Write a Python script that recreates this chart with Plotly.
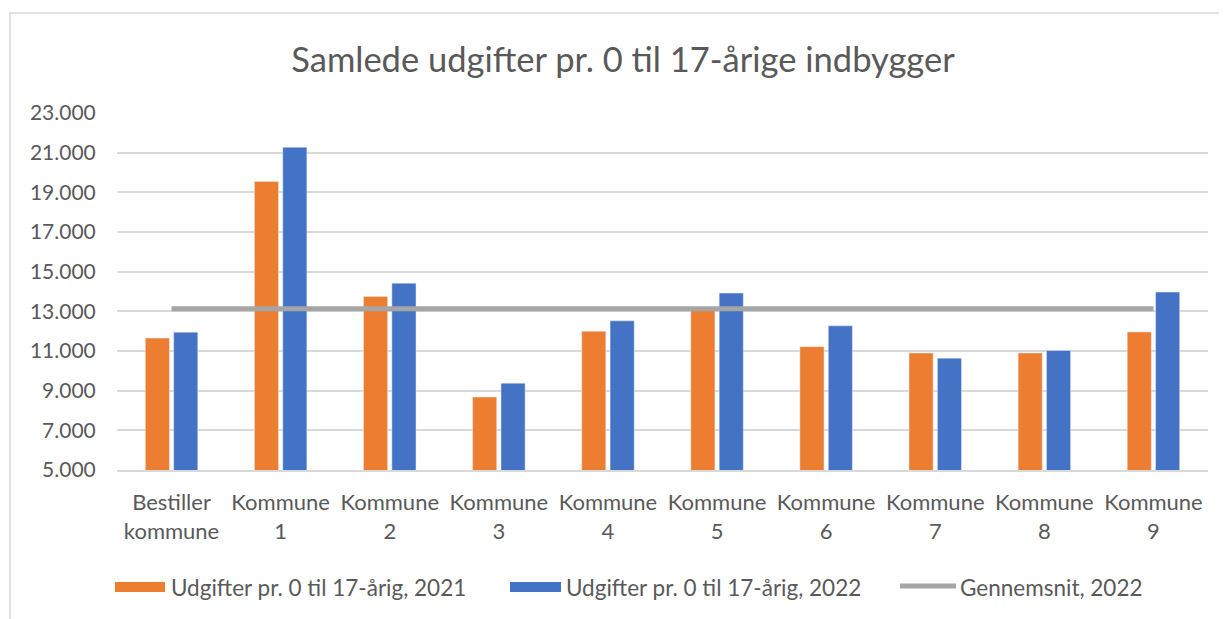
import plotly.graph_objects as go

categories = ["Bestiller<br>kommune", "Kommune<br>1", "Kommune<br>2", "Kommune<br>3", "Kommune<br>4",
              "Kommune<br>5", "Kommune<br>6", "Kommune<br>7", "Kommune<br>8", "Kommune<br>9"]
udg_2021 = [11650, 19550, 13750, 8680, 12000, 13050, 11220, 10900, 10900, 11960]
udg_2022 = [11950, 21270, 14420, 9380, 12520, 13920, 12270, 10640, 11030, 13970]
gns_2022 = [13130, 13130, 13130, 13130, 13130, 13130, 13130, 13130, 13130, 13130]

names = ["Udgifter pr. 0 til 17-årig, 2021", "Udgifter pr. 0 til 17-årig, 2022", "Gennemsnit, 2022"]
title = "Samlede udgifter pr. 0 til 17-årige indbygger"

OFF = 8  # page body margin
W, H = 1227 - OFF, 619 - OFF
L, T = 117 - OFF, 113 - OFF
R = W - (1208 - OFF)
B = H - (470 - OFF)
PW, PH = W - L - R, H - T - B
FONT = "Lato"
GRAY = "#595959"
ORANGE = "#ED7D31"
BLUE = "#4472C4"
LINE = "#A5A5A5"


def px(x):
    return (x - OFF - L) / PW


def py(y):
    return (H - B - (y - OFF)) / PH


fig = go.Figure()
fig.add_trace(go.Bar(x=categories, y=udg_2021, name=names[0], marker_color=ORANGE))
fig.add_trace(go.Bar(x=categories, y=udg_2022, name=names[1], marker_color=BLUE))
fig.add_trace(go.Scatter(x=categories, y=gns_2022, name=names[2], mode="lines",
                         line=dict(color=LINE, width=5)))

LEG_Y = 587
shapes = [
    dict(type="rect", xref="paper", yref="paper", x0=px(10), x1=px(1240), y0=py(640), y1=py(13),
         line=dict(color="#D9D9D9", width=1.5), fillcolor="rgba(0,0,0,0)", layer="below"),
    dict(type="rect", xref="paper", yref="paper", x0=px(115), x1=px(165), y0=py(LEG_Y + 5), y1=py(LEG_Y - 5),
         line=dict(width=0), fillcolor=ORANGE),
    dict(type="rect", xref="paper", yref="paper", x0=px(510), x1=px(561), y0=py(LEG_Y + 5), y1=py(LEG_Y - 5),
         line=dict(width=0), fillcolor=BLUE),
    dict(type="line", xref="paper", yref="paper", x0=px(900), x1=px(956), y0=py(LEG_Y - 1), y1=py(LEG_Y - 1),
         line=dict(width=5, color=LINE)),
]
LF = 22.5
annotations = [
    dict(text=names[0], xref="paper", yref="paper", x=px(169), y=py(LEG_Y), xanchor="left", yanchor="middle",
         showarrow=False, font=dict(family=FONT, size=LF, color=GRAY)),
    dict(text=names[1], xref="paper", yref="paper", x=px(564), y=py(LEG_Y), xanchor="left", yanchor="middle",
         showarrow=False, font=dict(family=FONT, size=LF, color=GRAY)),
    dict(text=names[2], xref="paper", yref="paper", x=px(958), y=py(LEG_Y), xanchor="left", yanchor="middle",
         showarrow=False, font=dict(family=FONT, size=LF, color=GRAY)),
]

fig.update_layout(
    width=W, height=H,
    margin=dict(l=L, r=R, t=T, b=B),
    paper_bgcolor="white", plot_bgcolor="white",
    separators=",.",
    showlegend=False,
    barmode="group", bargap=0.48, bargroupgap=0.15,
    title=dict(text=title, x=(623 - OFF) / W, xanchor="center", y=1 - (60 - OFF) / H, yanchor="middle",
               font=dict(family=FONT, size=34.5, color=GRAY)),
    font=dict(family=FONT, color=GRAY),
    shapes=shapes,
    annotations=annotations,
)
fig.update_yaxes(range=[5000, 23000], tick0=5000, dtick=2000, tickformat=",.0f",
                 showgrid=True, gridcolor="#D9D9D9", gridwidth=1.5, zeroline=False,
                 ticks="outside", ticklen=16, tickcolor="rgba(0,0,0,0)",
                 tickfont=dict(family=FONT, size=21, color=GRAY))
fig.update_xaxes(showline=True, linecolor="#D9D9D9", linewidth=1.5, showgrid=False,
                 ticks="outside", ticklen=12, tickcolor="rgba(0,0,0,0)",
                 tickfont=dict(family=FONT, size=22, color=GRAY))

fig.write_html("out.html")
